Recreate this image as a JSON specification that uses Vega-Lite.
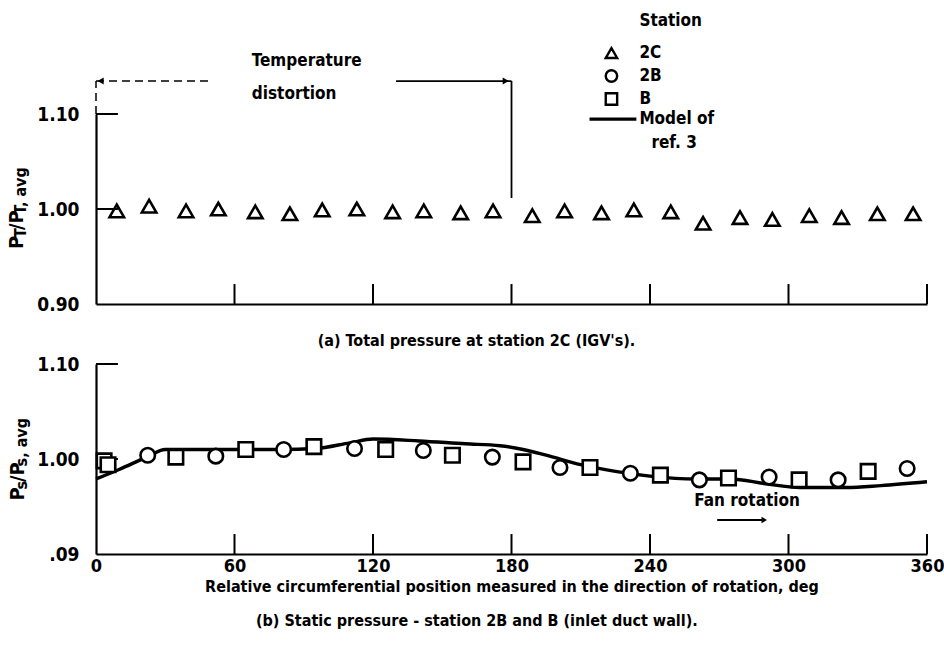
{
  "$schema": "https://vega.github.io/schema/vega-lite/v6.json",
  "background": "white",
  "padding": {"left": 7, "top": 11, "right": 5, "bottom": 5},
  "autosize": {"type": "pad"},
  "spacing": 60,
  "bounds": "flush",
  "config": {
    "view": {"stroke": null},
    "font": "'Liberation Sans Narrow', 'DejaVu Sans Condensed', 'Liberation Sans', sans-serif",
    "text": {"color": "black", "fontWeight": "bold"},
    "axis": {
      "domainColor": "black",
      "domainWidth": 2.2,
      "labelColor": "black",
      "labelFontWeight": "bold",
      "titleColor": "black",
      "titleFontWeight": "bold",
      "grid": false,
      "ticks": false
    }
  },
  "datasets": {
    "top2C": [
      {"deg": 9, "ratio": 0.998, "station": "2C"},
      {"deg": 23, "ratio": 1.003, "station": "2C"},
      {"deg": 39, "ratio": 0.998, "station": "2C"},
      {"deg": 53, "ratio": 1.0, "station": "2C"},
      {"deg": 69, "ratio": 0.997, "station": "2C"},
      {"deg": 84, "ratio": 0.995, "station": "2C"},
      {"deg": 98, "ratio": 0.999, "station": "2C"},
      {"deg": 113, "ratio": 1.0, "station": "2C"},
      {"deg": 128.5, "ratio": 0.997, "station": "2C"},
      {"deg": 142, "ratio": 0.998, "station": "2C"},
      {"deg": 158, "ratio": 0.996, "station": "2C"},
      {"deg": 172, "ratio": 0.998, "station": "2C"},
      {"deg": 189, "ratio": 0.993, "station": "2C"},
      {"deg": 203, "ratio": 0.998, "station": "2C"},
      {"deg": 219, "ratio": 0.996, "station": "2C"},
      {"deg": 233, "ratio": 0.999, "station": "2C"},
      {"deg": 249, "ratio": 0.997, "station": "2C"},
      {"deg": 263, "ratio": 0.985, "station": "2C"},
      {"deg": 279, "ratio": 0.991, "station": "2C"},
      {"deg": 293, "ratio": 0.989, "station": "2C"},
      {"deg": 309, "ratio": 0.993, "station": "2C"},
      {"deg": 323, "ratio": 0.991, "station": "2C"},
      {"deg": 338.5, "ratio": 0.995, "station": "2C"},
      {"deg": 354, "ratio": 0.995, "station": "2C"}
    ],
    "bottomPts": [
      {"deg": 3.5, "ratio": 0.998, "station": "B"},
      {"deg": 5.2, "ratio": 0.994, "station": "B"},
      {"deg": 34.6, "ratio": 1.002, "station": "B"},
      {"deg": 64.9, "ratio": 1.01, "station": "B"},
      {"deg": 94.4, "ratio": 1.013, "station": "B"},
      {"deg": 125.5, "ratio": 1.01, "station": "B"},
      {"deg": 154.4, "ratio": 1.004, "station": "B"},
      {"deg": 185, "ratio": 0.997, "station": "B"},
      {"deg": 214, "ratio": 0.991, "station": "B"},
      {"deg": 244.5, "ratio": 0.983, "station": "B"},
      {"deg": 274, "ratio": 0.98, "station": "B"},
      {"deg": 304.6, "ratio": 0.978, "station": "B"},
      {"deg": 334.5, "ratio": 0.987, "station": "B"},
      {"deg": 22.4, "ratio": 1.004, "station": "2B"},
      {"deg": 51.9, "ratio": 1.003, "station": "2B"},
      {"deg": 81.3, "ratio": 1.01, "station": "2B"},
      {"deg": 112, "ratio": 1.011, "station": "2B"},
      {"deg": 141.8, "ratio": 1.009, "station": "2B"},
      {"deg": 171.7, "ratio": 1.002, "station": "2B"},
      {"deg": 201, "ratio": 0.991, "station": "2B"},
      {"deg": 231.5, "ratio": 0.985, "station": "2B"},
      {"deg": 261.4, "ratio": 0.978, "station": "2B"},
      {"deg": 291.6, "ratio": 0.981, "station": "2B"},
      {"deg": 321.5, "ratio": 0.978, "station": "2B"},
      {"deg": 351.4, "ratio": 0.99, "station": "2B"}
    ],
    "model": [
      {"deg": 0, "ratio": 0.979},
      {"deg": 10, "ratio": 0.989},
      {"deg": 22, "ratio": 1.002},
      {"deg": 30, "ratio": 1.01},
      {"deg": 40, "ratio": 1.01},
      {"deg": 60, "ratio": 1.01},
      {"deg": 80, "ratio": 1.01},
      {"deg": 95, "ratio": 1.011},
      {"deg": 110, "ratio": 1.017},
      {"deg": 120, "ratio": 1.021},
      {"deg": 140, "ratio": 1.019},
      {"deg": 160, "ratio": 1.016},
      {"deg": 175, "ratio": 1.014},
      {"deg": 185, "ratio": 1.01},
      {"deg": 195, "ratio": 1.004},
      {"deg": 210, "ratio": 0.994},
      {"deg": 225, "ratio": 0.987},
      {"deg": 240, "ratio": 0.982},
      {"deg": 260, "ratio": 0.979},
      {"deg": 275, "ratio": 0.979},
      {"deg": 290, "ratio": 0.974},
      {"deg": 305, "ratio": 0.97},
      {"deg": 325, "ratio": 0.97},
      {"deg": 340, "ratio": 0.972},
      {"deg": 360, "ratio": 0.976}
    ],
    "xticks": [
      {"deg": 60}, {"deg": 120}, {"deg": 180}, {"deg": 240}, {"deg": 300}, {"deg": 360}
    ],
    "yticks": [
      {"ratio": 1.0}, {"ratio": 1.1}
    ],
    "legendSym": [
      {"deg": 223.3, "ratio": 1.1642, "station": "2C"},
      {"deg": 223.3, "ratio": 1.14, "station": "2B"},
      {"deg": 223.3, "ratio": 1.1158, "station": "B"}
    ],
    "legendLine": [
      {"deg": 213.8, "deg2": 234.1, "ratio": 1.0947, "ratio2": 1.0947}
    ],
    "topText": [
      {"deg": 235.4, "ratio": 1.1979, "label": "Station"},
      {"deg": 235.4, "ratio": 1.1642, "label": "2C"},
      {"deg": 235.4, "ratio": 1.14, "label": "2B"},
      {"deg": 235.4, "ratio": 1.1158, "label": "B"},
      {"deg": 235.4, "ratio": 1.0947, "label": "Model of"},
      {"deg": 240.6, "ratio": 1.0695, "label": "ref. 3"},
      {"deg": 67.5, "ratio": 1.1558, "label": "Temperature"},
      {"deg": 67.5, "ratio": 1.1211, "label": "distortion"}
    ],
    "dashedSeg": [
      {"deg": 0, "deg2": 49, "ratio": 1.1347, "ratio2": 1.1347},
      {"deg": 0, "deg2": 0, "ratio": 1.1, "ratio2": 1.1347}
    ],
    "solidSeg": [
      {"deg": 130, "deg2": 180, "ratio": 1.1347, "ratio2": 1.1347},
      {"deg": 180, "deg2": 180, "ratio": 1.0116, "ratio2": 1.1347}
    ],
    "arrowLeft": [{"deg": 2, "ratio": 1.1347}],
    "arrowRight": [{"deg": 177.5, "ratio": 1.1347}],
    "ytitleTopBig": [
      {"deg": -31.6, "ratio": 0.9579, "label": "P"},
      {"deg": -31.6, "ratio": 0.9778, "label": "/P"}
    ],
    "ytitleTopSmall": [
      {"deg": -30.3, "ratio": 0.9694, "label": "T"},
      {"deg": -30.3, "ratio": 0.9941, "label": "T, avg"}
    ],
    "ytitleBotBig": [
      {"deg": -31.2, "ratio": 0.9564, "label": "P"},
      {"deg": -31.2, "ratio": 0.9757, "label": "/P"}
    ],
    "ytitleBotSmall": [
      {"deg": -29.9, "ratio": 0.968, "label": "s"},
      {"deg": -29.9, "ratio": 0.9922, "label": "s, avg"}
    ],
    "fanText": [
      {"deg": 259.2, "ratio": 0.9558, "label": "Fan rotation"}
    ],
    "fanArrow": [
      {"deg": 269.1, "deg2": 289.5, "ratio": 0.9358, "ratio2": 0.9358}
    ],
    "fanHead": [{"deg": 289.5, "ratio": 0.9358}],
    "captionB": [
      {"deg": 165, "ratio": 0.8295, "label": "(b) Static pressure - station 2B and B (inlet duct wall)."}
    ]
  },
  "vconcat": [
    {
      "width": 831,
      "height": 190,
      "resolve": {"axis": {"x": "independent", "y": "independent"}},
      "layer": [
        {
          "data": {"name": "top2C"},
          "mark": {"type": "point", "filled": true, "fill": "white", "stroke": "black", "strokeWidth": 2.6, "size": 210, "opacity": 1},
          "encoding": {
            "x": {
              "field": "deg",
              "type": "quantitative",
              "scale": {"domain": [0, 360], "nice": false, "zero": false},
              "axis": {
                "labels": false,
                "title": "(a) Total pressure at station 2C (IGV's).",
                "titleFontSize": 16,
                "titleX": 380,
                "titleY": 36,
                "titleBaseline": "middle"
              }
            },
            "y": {
              "field": "ratio",
              "type": "quantitative",
              "scale": {"domain": [0.9, 1.1], "nice": false, "zero": false},
              "axis": {
                "values": [0.9, 1.0, 1.1],
                "labelExpr": "format(datum.value, '.2f')",
                "labelFontSize": 19,
                "labelPadding": 17,
                "title": null
              }
            },
            "shape": {"field": "station", "type": "nominal", "scale": {"domain": ["2C", "2B", "B"], "range": ["triangle-up", "circle", "square"]}, "legend": null}
          }
        },
        {
          "data": {"name": "xticks"},
          "mark": {"type": "rule", "color": "black", "strokeWidth": 2},
          "encoding": {
            "x": {"field": "deg", "type": "quantitative", "axis": null},
            "y": {"datum": 0.9, "axis": null},
            "y2": {"datum": 0.921}
          }
        },
        {
          "data": {"name": "yticks"},
          "mark": {"type": "rule", "color": "black", "strokeWidth": 2},
          "encoding": {
            "y": {"field": "ratio", "type": "quantitative", "axis": null},
            "x": {"datum": 0, "axis": null},
            "x2": {"datum": 9.5}
          }
        },
        {
          "data": {"name": "dashedSeg"},
          "mark": {"type": "rule", "color": "black", "strokeWidth": 1.5, "strokeDash": [8, 5]},
          "encoding": {
            "x": {"field": "deg", "type": "quantitative", "axis": null},
            "x2": {"field": "deg2"},
            "y": {"field": "ratio", "type": "quantitative", "axis": null},
            "y2": {"field": "ratio2"}
          }
        },
        {
          "data": {"name": "solidSeg"},
          "mark": {"type": "rule", "color": "black", "strokeWidth": 1.8},
          "encoding": {
            "x": {"field": "deg", "type": "quantitative", "axis": null},
            "x2": {"field": "deg2"},
            "y": {"field": "ratio", "type": "quantitative", "axis": null},
            "y2": {"field": "ratio2"}
          }
        },
        {
          "data": {"name": "legendLine"},
          "mark": {"type": "rule", "color": "black", "strokeWidth": 3.2},
          "encoding": {
            "x": {"field": "deg", "type": "quantitative", "axis": null},
            "x2": {"field": "deg2"},
            "y": {"field": "ratio", "type": "quantitative", "axis": null},
            "y2": {"field": "ratio2"}
          }
        },
        {
          "data": {"name": "arrowLeft"},
          "mark": {"type": "point", "shape": "triangle-left", "filled": true, "color": "black", "size": 50, "opacity": 1},
          "encoding": {
            "x": {"field": "deg", "type": "quantitative", "axis": null},
            "y": {"field": "ratio", "type": "quantitative", "axis": null}
          }
        },
        {
          "data": {"name": "arrowRight"},
          "mark": {"type": "point", "shape": "triangle-right", "filled": true, "color": "black", "size": 50, "opacity": 1},
          "encoding": {
            "x": {"field": "deg", "type": "quantitative", "axis": null},
            "y": {"field": "ratio", "type": "quantitative", "axis": null}
          }
        },
        {
          "data": {"name": "legendSym"},
          "mark": {"type": "point", "filled": true, "fill": "white", "stroke": "black", "strokeWidth": 2.4, "size": 130, "opacity": 1},
          "encoding": {
            "x": {"field": "deg", "type": "quantitative", "axis": null},
            "y": {"field": "ratio", "type": "quantitative", "axis": null},
            "shape": {"field": "station", "type": "nominal", "scale": {"domain": ["2C", "2B", "B"], "range": ["triangle-up", "circle", "square"]}, "legend": null}
          }
        },
        {
          "data": {"name": "topText"},
          "mark": {"type": "text", "align": "left", "baseline": "middle", "fontSize": 17},
          "encoding": {
            "x": {"field": "deg", "type": "quantitative", "axis": null},
            "y": {"field": "ratio", "type": "quantitative", "axis": null},
            "text": {"field": "label"}
          }
        },
        {
          "data": {"name": "ytitleTopBig"},
          "mark": {"type": "text", "angle": 270, "align": "left", "baseline": "alphabetic", "fontSize": 20},
          "encoding": {
            "x": {"field": "deg", "type": "quantitative", "axis": null},
            "y": {"field": "ratio", "type": "quantitative", "axis": null},
            "text": {"field": "label"}
          }
        },
        {
          "data": {"name": "ytitleTopSmall"},
          "mark": {"type": "text", "angle": 270, "align": "left", "baseline": "alphabetic", "fontSize": 16},
          "encoding": {
            "x": {"field": "deg", "type": "quantitative", "axis": null},
            "y": {"field": "ratio", "type": "quantitative", "axis": null},
            "text": {"field": "label"}
          }
        }
      ]
    },
    {
      "width": 831,
      "height": 190,
      "resolve": {"axis": {"x": "independent", "y": "independent"}},
      "layer": [
        {
          "data": {"name": "model"},
          "mark": {"type": "line", "color": "black", "strokeWidth": 3.4, "interpolate": "monotone"},
          "encoding": {
            "x": {
              "field": "deg",
              "type": "quantitative",
              "scale": {"domain": [0, 360], "nice": false, "zero": false},
              "axis": {
                "values": [0, 60, 120, 180, 240, 300, 360],
                "format": "d",
                "labelFlush": false,
                "labelFontSize": 18,
                "labelPadding": 3,
                "title": "Relative circumferential position measured in the direction of rotation, deg",
                "titleFontSize": 16,
                "titlePadding": 3
              }
            },
            "y": {
              "field": "ratio",
              "type": "quantitative",
              "scale": {"domain": [0.9, 1.1], "nice": false, "zero": false},
              "axis": {
                "values": [0.9, 1.0, 1.1],
                "labelExpr": "datum.value < 0.95 ? '.09' : format(datum.value, '.2f')",
                "labelFontSize": 19,
                "labelPadding": 17,
                "title": null
              }
            }
          }
        },
        {
          "data": {"name": "xticks"},
          "mark": {"type": "rule", "color": "black", "strokeWidth": 2},
          "encoding": {
            "x": {"field": "deg", "type": "quantitative", "axis": null},
            "y": {"datum": 0.9, "axis": null},
            "y2": {"datum": 0.921}
          }
        },
        {
          "data": {"name": "yticks"},
          "mark": {"type": "rule", "color": "black", "strokeWidth": 2},
          "encoding": {
            "y": {"field": "ratio", "type": "quantitative", "axis": null},
            "x": {"datum": 0, "axis": null},
            "x2": {"datum": 9.5}
          }
        },
        {
          "data": {"name": "bottomPts"},
          "mark": {"type": "point", "filled": true, "fill": "white", "stroke": "black", "strokeWidth": 2.6, "size": 210, "opacity": 1},
          "encoding": {
            "x": {"field": "deg", "type": "quantitative", "axis": null},
            "y": {"field": "ratio", "type": "quantitative", "axis": null},
            "shape": {"field": "station", "type": "nominal", "scale": {"domain": ["2C", "2B", "B"], "range": ["triangle-up", "circle", "square"]}, "legend": null}
          }
        },
        {
          "data": {"name": "fanArrow"},
          "mark": {"type": "rule", "color": "black", "strokeWidth": 2},
          "encoding": {
            "x": {"field": "deg", "type": "quantitative", "axis": null},
            "x2": {"field": "deg2"},
            "y": {"field": "ratio", "type": "quantitative", "axis": null},
            "y2": {"field": "ratio2"}
          }
        },
        {
          "data": {"name": "fanHead"},
          "mark": {"type": "point", "shape": "triangle-right", "filled": true, "color": "black", "size": 40, "opacity": 1},
          "encoding": {
            "x": {"field": "deg", "type": "quantitative", "axis": null},
            "y": {"field": "ratio", "type": "quantitative", "axis": null}
          }
        },
        {
          "data": {"name": "fanText"},
          "mark": {"type": "text", "align": "left", "baseline": "middle", "fontSize": 17},
          "encoding": {
            "x": {"field": "deg", "type": "quantitative", "axis": null},
            "y": {"field": "ratio", "type": "quantitative", "axis": null},
            "text": {"field": "label"}
          }
        },
        {
          "data": {"name": "captionB"},
          "mark": {"type": "text", "align": "center", "baseline": "middle", "fontSize": 16},
          "encoding": {
            "x": {"field": "deg", "type": "quantitative", "axis": null},
            "y": {"field": "ratio", "type": "quantitative", "axis": null},
            "text": {"field": "label"}
          }
        },
        {
          "data": {"name": "ytitleBotBig"},
          "mark": {"type": "text", "angle": 270, "align": "left", "baseline": "alphabetic", "fontSize": 20},
          "encoding": {
            "x": {"field": "deg", "type": "quantitative", "axis": null},
            "y": {"field": "ratio", "type": "quantitative", "axis": null},
            "text": {"field": "label"}
          }
        },
        {
          "data": {"name": "ytitleBotSmall"},
          "mark": {"type": "text", "angle": 270, "align": "left", "baseline": "alphabetic", "fontSize": 16},
          "encoding": {
            "x": {"field": "deg", "type": "quantitative", "axis": null},
            "y": {"field": "ratio", "type": "quantitative", "axis": null},
            "text": {"field": "label"}
          }
        }
      ]
    }
  ]
}
